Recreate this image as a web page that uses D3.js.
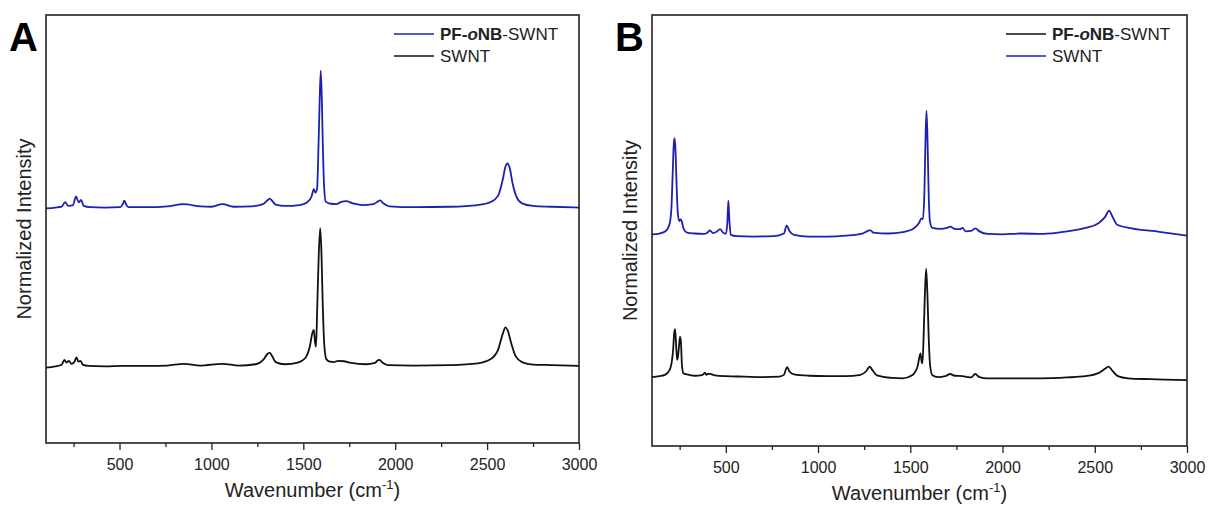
<!DOCTYPE html>
<html>
<head>
<meta charset="utf-8">
<script src="https://cdn.jsdelivr.net/npm/d3@7"></script>
<style>
  body { margin: 0; background: #fff; }
  text { font-family: Arial, "Liberation Sans", sans-serif; }
</style>
</head>
<body>
<div id="my_dataviz"></div>
<script>
// x tick labels, shared by both panels
const xTicks = [500, 1000, 1500, 2000, 2500, 3000];
const xMinor = [250, 750, 1250, 1750, 2250, 2750];

// Panel A, stacked spectra [wavenumber, normalized intensity + offset]
const a_pfonb = [[100,54.8],[150,55.0],[185,55.2],[204,56.3],[220,55.4],[245,55.5],[264,57.6],[278,56.2],[291,56.8],[305,55.4],[340,55.1],[420,55.0],[505,55.1],[518,55.9],[526,56.6],[534,55.9],[548,55.1],[650,55.1],[760,55.3],[848,55.8],[940,55.3],[1000,55.2],[1060,55.8],[1120,55.2],[1220,55.3],[1280,55.8],[1305,56.7],[1317,57.1],[1330,56.6],[1350,55.7],[1400,55.4],[1480,55.6],[1520,56.2],[1545,57.6],[1557,59.3],[1566,58.5],[1575,59.5],[1583,70],[1589,80],[1595,87.0],[1601,80],[1606,70],[1613,60],[1622,56.4],[1650,55.9],[1680,55.8],[1700,56.2],[1732,56.5],[1770,56.0],[1820,55.6],[1880,55.8],[1905,56.4],[1918,56.7],[1935,56.0],[1970,55.3],[2100,55.1],[2300,55.2],[2450,55.6],[2520,56.3],[2560,57.8],[2585,61.5],[2600,64.6],[2611,65.3],[2622,64.4],[2640,60.4],[2660,57.5],[2690,56.0],[2750,55.4],[2850,55.2],[3000,55.0]];
const a_swnt = [[100,17.6],[150,17.9],[185,18.3],[200,19.4],[212,18.8],[225,19.2],[238,18.5],[255,19.0],[266,20.0],[276,19.0],[288,19.2],[300,18.3],[330,18.0],[420,17.9],[520,18.0],[650,18.0],[760,18.1],[850,18.5],[940,18.1],[1060,18.5],[1150,18.1],[1240,18.4],[1285,19.6],[1305,20.8],[1317,21.1],[1330,20.3],[1350,18.9],[1400,18.4],[1470,18.8],[1510,19.8],[1535,22.5],[1550,25.8],[1557,26.4],[1564,23.5],[1569,22.5],[1576,32],[1584,44],[1592,50.2],[1599,44],[1606,32],[1614,23],[1625,19.6],[1645,19.0],[1665,18.9],[1690,19.2],[1720,19.1],[1760,18.7],[1840,18.4],[1890,18.7],[1905,19.3],[1915,19.4],[1930,18.8],[1960,18.2],[2100,18.1],[2300,18.2],[2450,18.6],[2520,19.6],[2560,21.8],[2585,25.5],[2600,27.0],[2612,26.3],[2630,23.5],[2655,20.3],[2690,18.9],[2750,18.3],[2850,18.2],[3000,18.0]];

// Panel B
const b_swnt = [[100,49.1],[140,49.3],[175,49.9],[195,51.5],[205,55],[212,63],[218,70],[222,71.4],[227,69],[233,61],[240,54],[248,52.2],[256,52.6],[262,52.0],[272,50.3],[290,49.5],[330,49.3],[380,49.2],[400,49.5],[415,50.0],[430,49.4],[450,49.7],[469,50.3],[485,49.5],[500,49.2],[508,51.5],[514,56.9],[520,52],[527,49.0],[560,48.7],[650,48.6],[760,48.7],[815,49.3],[830,51.2],[845,49.9],[870,49.0],[950,48.6],[1050,48.6],[1150,48.8],[1240,49.3],[1270,49.9],[1282,50.1],[1300,49.5],[1380,49.3],[1460,49.6],[1520,50.5],[1548,51.8],[1560,52.8],[1568,52.6],[1576,58],[1582,70],[1588,77.8],[1594,70],[1600,58],[1607,52],[1620,50.6],[1660,50.4],[1700,50.6],[1716,50.9],[1740,50.4],[1770,50.3],[1783,50.6],[1800,49.8],[1830,49.9],[1853,50.5],[1875,49.8],[1920,49.2],[2000,49.1],[2100,49.3],[2220,49.2],[2350,49.8],[2450,50.6],[2520,51.7],[2555,53.1],[2578,54.6],[2595,53.3],[2620,51.4],[2700,50.5],[2850,49.7],[3000,48.8]];
const b_pfonb = [[100,16.0],[140,16.2],[170,16.5],[195,17.6],[205,19.0],[214,22],[220,26],[225,27.1],[230,24],[236,20.0],[240,20.5],[246,23],[252,25.4],[257,24],[262,19],[270,16.9],[290,16.6],[330,16.3],[375,16.5],[387,17.0],[395,16.5],[405,16.8],[420,16.7],[440,16.4],[500,16.2],[600,16.1],[700,16.0],[790,16.1],[815,16.5],[826,17.8],[833,18.3],[845,17.3],[870,16.6],[950,16.3],[1050,16.2],[1150,16.2],[1230,16.5],[1262,17.4],[1280,18.4],[1295,17.6],[1320,16.4],[1400,15.8],[1460,15.7],[1510,16.4],[1540,18.5],[1555,21.5],[1562,19.5],[1566,19.2],[1572,25],[1579,35],[1586,41.1],[1593,35],[1600,25],[1608,18.5],[1620,16.4],[1650,16.0],[1690,16.2],[1716,16.7],[1740,16.3],[1783,16.2],[1810,16.0],[1830,15.9],[1852,16.7],[1875,16.0],[1920,15.7],[2050,15.7],[2200,15.7],[2350,15.9],[2450,16.2],[2520,16.9],[2555,17.9],[2575,18.4],[2595,17.5],[2625,16.2],[2680,15.7],[2800,15.5],[3000,15.3]];

const BLUE = "#1f1fb4";
const BLACK = "#111";

const panels = [
  { letter: "A", left: 46, right: 579, top: 15, bottom: 443,
    series: [{ data: a_pfonb, color: BLUE }, { data: a_swnt, color: BLACK }],
    legend: [{ color: BLUE, bold: true }, { color: BLACK, bold: false }], legendX: 394 },
  { letter: "B", left: 652, right: 1187, top: 15, bottom: 446,
    series: [{ data: b_swnt, color: BLUE }, { data: b_pfonb, color: BLACK }],
    legend: [{ color: BLACK, bold: true }, { color: BLUE, bold: false }], legendX: 1006 }
];

const svg = d3.select("#my_dataviz").append("svg")
  .attr("width", 1210).attr("height", 514);

panels.forEach(p => {
  const x = d3.scaleLinear().domain([100, 3000]).range([p.left, p.right]);
  const y = d3.scaleLinear().domain([0, 100]).range([p.bottom, p.top]);
  const g = svg.append("g");

  const line = d3.line()
    .x(d => x(d[0]))
    .y(d => y(d[1]))
    .curve(d3.curveMonotoneX);

  p.series.forEach(s => {
    g.append("path")
      .datum(s.data)
      .attr("fill", "none")
      .attr("stroke", s.color)
      .attr("stroke-width", 1.8)
      .attr("stroke-linejoin", "round")
      .attr("d", line);
  });

  // bottom axis with major + minor ticks
  g.append("g")
    .attr("transform", `translate(0,${p.bottom})`)
    .call(d3.axisBottom(x).tickValues(xMinor).tickSize(4).tickFormat(""))
    .call(a => a.select(".domain").remove())
    .selectAll("line").attr("stroke", "#222").attr("stroke-width", 1.3);

  const xa = g.append("g")
    .attr("transform", `translate(0,${p.bottom})`)
    .call(d3.axisBottom(x).tickValues(xTicks).tickSize(7).tickPadding(9).tickFormat(d3.format("d")));
  xa.select(".domain").remove();
  xa.selectAll("line").attr("stroke", "#222").attr("stroke-width", 1.3);
  xa.selectAll("text").attr("font-size", 16).attr("fill", "#222")
    .attr("font-family", "Arial, 'Liberation Sans', sans-serif");

  // frame
  g.append("rect")
    .attr("x", p.left).attr("y", p.top)
    .attr("width", p.right - p.left).attr("height", p.bottom - p.top)
    .attr("fill", "none").attr("stroke", "#222").attr("stroke-width", 1.6);

  // x title
  const xt = g.append("text")
    .attr("x", (p.left + p.right) / 2).attr("y", p.bottom + 54)
    .attr("text-anchor", "middle").attr("font-size", 20).attr("fill", "#222");
  xt.append("tspan").text("Wavenumber (cm");
  xt.append("tspan").attr("font-size", 13).attr("dy", -8).text("-1");
  xt.append("tspan").attr("dy", 8).text(")");

  // y title
  g.append("text")
    .attr("transform", `translate(${p.left - 15},${(p.top + p.bottom) / 2}) rotate(-90)`)
    .attr("text-anchor", "middle").attr("font-size", 20).attr("fill", "#222")
    .text("Normalized Intensity");

  // panel letter
  g.append("text")
    .attr("x", p.left - 37).attr("y", p.top + 36)
    .attr("font-size", 40).attr("font-weight", "bold").attr("fill", "#000")
    .text(p.letter);

  // legend
  p.legend.forEach((l, i) => {
    const ly = p.top + 19 + i * 22;
    g.append("line")
      .attr("x1", p.legendX).attr("x2", p.legendX + 40)
      .attr("y1", ly).attr("y2", ly)
      .attr("stroke", l.color).attr("stroke-width", 1.6);
    const t = g.append("text")
      .attr("x", p.legendX + 46).attr("y", ly + 6)
      .attr("font-size", 17).attr("fill", "#222");
    if (l.bold) {
      t.append("tspan").attr("font-weight", "bold").text("PF-");
      t.append("tspan").attr("font-weight", "bold").attr("font-style", "italic").text("o");
      t.append("tspan").attr("font-weight", "bold").text("NB");
      t.append("tspan").text("-SWNT");
    } else {
      t.text("SWNT");
    }
  });
});
</script>
</body>
</html>
